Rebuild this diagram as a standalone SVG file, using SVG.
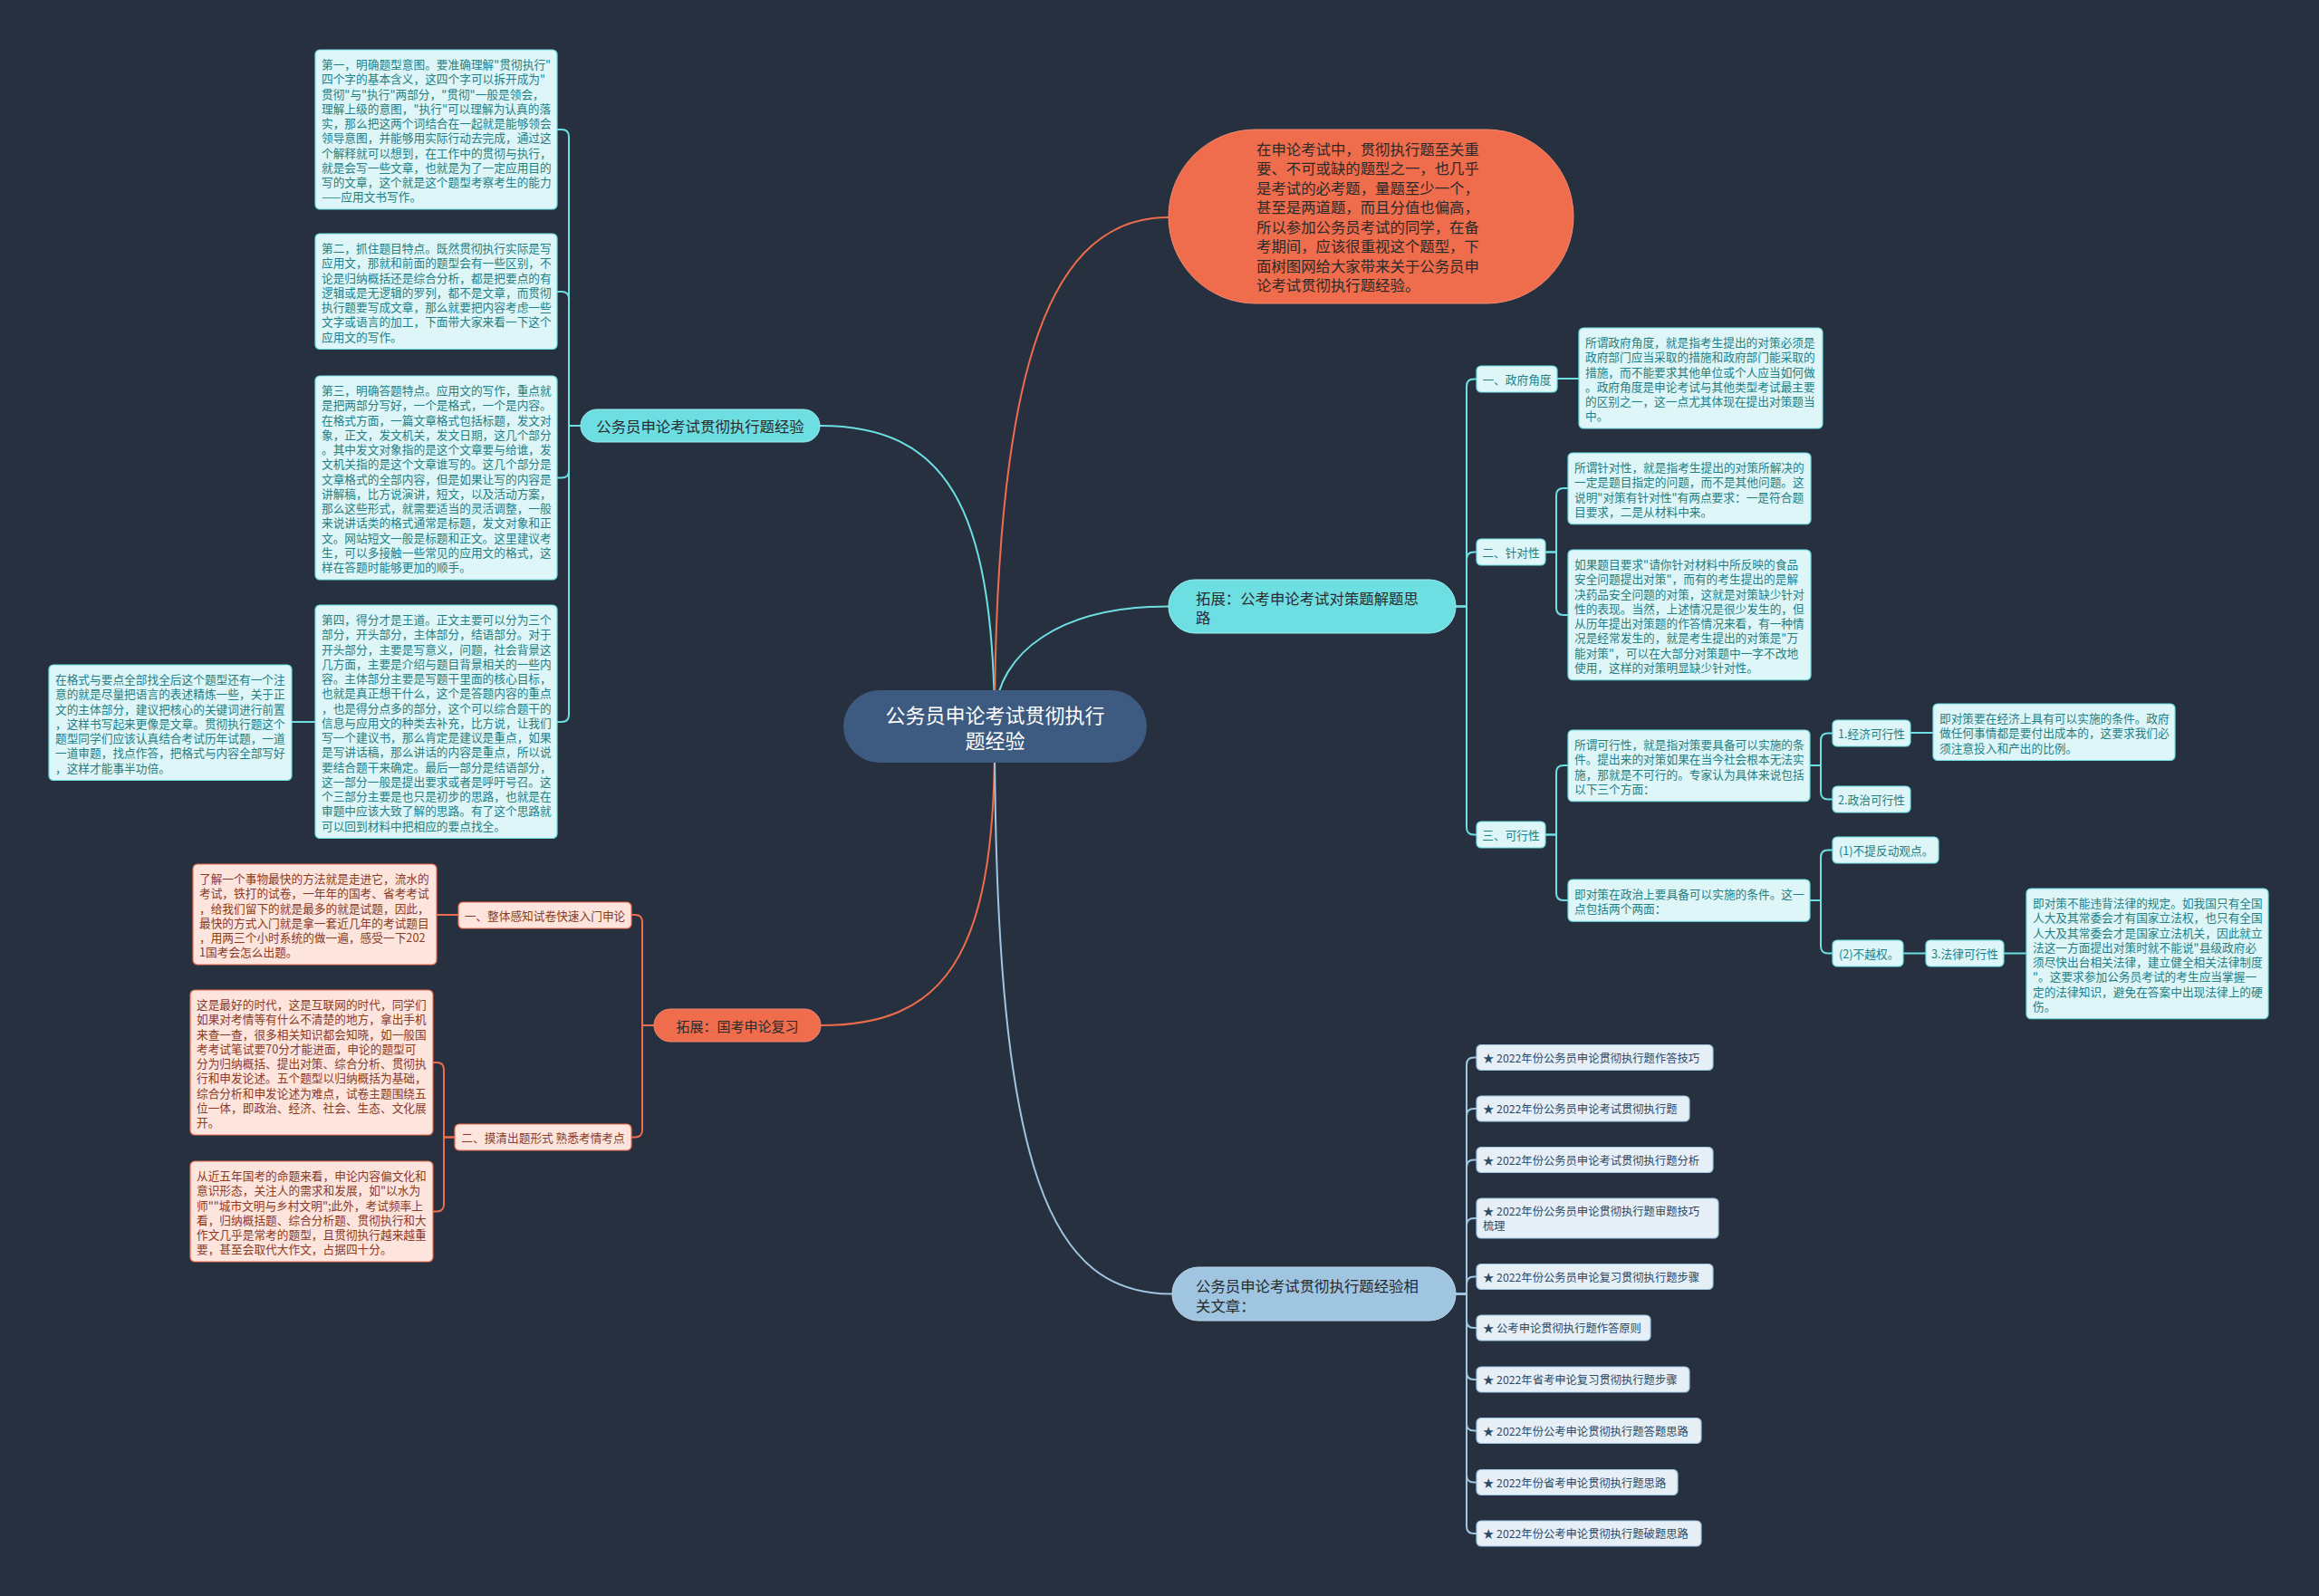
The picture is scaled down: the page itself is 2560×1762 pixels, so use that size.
<svg xmlns="http://www.w3.org/2000/svg" width="2560" height="1762" viewBox="0 0 2560 1762">
<style>
text{font-family:"Noto Sans CJK SC","Noto Sans",sans-serif;dominant-baseline:central}
.lc{fill:#def6f7;stroke:#6ddfe3;stroke-width:1.2}
.lo{fill:#fde5dd;stroke:#ef6c4c;stroke-width:1.2}
.la{fill:#e6eff6;stroke:#9fc5e0;stroke-width:1.2}
.tc{fill:#1f7f86;font-size:12.7px}
.to{fill:#8a3a28;font-size:12.7px}
.ta{fill:#2c4a66;font-size:12.3px}
.cc{fill:none;stroke:#6ddfe3;stroke-width:2}
.co{fill:none;stroke:#ef6c4c;stroke-width:2}
.ca{fill:none;stroke:#9fc5e0;stroke-width:2}
.big{font-size:16.4px;fill:#2a2a2a}
</style>
<rect width="2560" height="1762" fill="#27303f"/>
<g id="connectors">
<path class="cc" d="M1098 790 C1095 560 1045 470 905 470"/>
<path class="co" d="M1098 790 C1100 400 1160 240 1290 240"/>
<path class="cc" d="M1098 790 C1102 720 1170 669.5 1290 669.5"/>
<path class="co" d="M1098 820 C1098 1060 1040 1132 906 1132"/>
<path class="ca" d="M1098 820 C1100 1300 1160 1428.5 1294 1428.5"/>
<!-- cyan left -->
<path class="cc" d="M641 470 H628 V151 Q628 143 620 143 H615"/>
<path class="cc" d="M641 470 H628 V330 Q628 322 620 322 H615"/>
<path class="cc" d="M641 470 H628 V519.5 Q628 527.5 620 527.5 H615"/>
<path class="cc" d="M641 470 H628 V789 Q628 797 620 797 H615"/>
<path class="cc" d="M348 797 H322"/>
<!-- orange -->
<path class="co" d="M722 1132 H709 V1018 Q709 1010 701 1010 H697"/>
<path class="co" d="M722 1132 H709 V1247.5 Q709 1255.5 701 1255.5 H697"/>
<path class="co" d="M506 1010 H482"/>
<path class="co" d="M502 1255.5 H490 V1181 Q490 1173 482 1173 H478"/>
<path class="co" d="M502 1255.5 H490 V1329.5 Q490 1337.5 482 1337.5 H478"/>
<!-- right strategy -->
<path class="cc" d="M1607 669.5 H1619 V426.5 Q1619 418.5 1627 418.5 H1630"/>
<path class="cc" d="M1607 669.5 H1619 V617.5 Q1619 609.5 1627 609.5 H1630"/>
<path class="cc" d="M1607 669.5 H1619 V913.5 Q1619 921.5 1627 921.5 H1630"/>
<path class="cc" d="M1719 418 H1743"/>
<path class="cc" d="M1706 609.5 H1718 V547 Q1718 539 1726 539 H1731"/>
<path class="cc" d="M1706 609.5 H1718 V671 Q1718 679 1726 679 H1731"/>
<path class="cc" d="M1706 921.5 H1718 V853 Q1718 845 1726 845 H1731"/>
<path class="cc" d="M1706 921.5 H1718 V986 Q1718 994 1726 994 H1731"/>
<path class="cc" d="M1998 845 H2010 V817.5 Q2010 809.5 2018 809.5 H2023"/>
<path class="cc" d="M1998 845 H2010 V874.5 Q2010 882.5 2018 882.5 H2023"/>
<path class="cc" d="M2109 809 H2134"/>
<path class="cc" d="M1998 994 H2010 V946.5 Q2010 938.5 2018 938.5 H2023"/>
<path class="cc" d="M1998 994 H2010 V1044.5 Q2010 1052.5 2018 1052.5 H2023"/>
<path class="cc" d="M2101 1052.5 H2126"/>
<path class="cc" d="M2212 1052.5 H2237"/>
<!-- articles -->
<path class="ca" d="M1607 1428.5 H1619 V1175.5 Q1619 1167.5 1627 1167.5 H1630"/>
<path class="ca" d="M1607 1428.5 H1619 V1232 Q1619 1224 1627 1224 H1630"/>
<path class="ca" d="M1607 1428.5 H1619 V1288.5 Q1619 1280.5 1627 1280.5 H1630"/>
<path class="ca" d="M1607 1428.5 H1619 V1353 Q1619 1345 1627 1345 H1630"/>
<path class="ca" d="M1607 1428.5 H1619 V1417.5 Q1619 1409.5 1627 1409.5 H1630"/>
<path class="ca" d="M1607 1428.5 H1619 V1458 Q1619 1466 1627 1466 H1630"/>
<path class="ca" d="M1607 1428.5 H1619 V1515 Q1619 1523 1627 1523 H1630"/>
<path class="ca" d="M1607 1428.5 H1619 V1571.5 Q1619 1579.5 1627 1579.5 H1630"/>
<path class="ca" d="M1607 1428.5 H1619 V1628.5 Q1619 1636.5 1627 1636.5 H1630"/>
<path class="ca" d="M1607 1428.5 H1619 V1685 Q1619 1693 1627 1693 H1630"/>
</g>

<g id="center">
<rect x="931" y="762" width="335" height="80" rx="40" fill="#3d5a80"/>
<text x="1098.5" y="788" text-anchor="middle" fill="#ffffff" font-size="22px">公务员申论考试贯彻执行</text>
<text x="1098.5" y="816" text-anchor="middle" fill="#ffffff" font-size="22px">题经验</text>
</g>

<g id="intro">
<rect x="1290" y="143" width="447" height="192" rx="96" fill="#ef6c4c" stroke="#f28a6f" stroke-width="1"/>
<text class="big" x="1387" y="163.5" fill="#3b2520">在申论考试中，贯彻执行题至关重</text>
<text class="big" x="1387" y="185" fill="#3b2520">要、不可或缺的题型之一，也几乎</text>
<text class="big" x="1387" y="206.5" fill="#3b2520">是考试的必考题，量题至少一个，</text>
<text class="big" x="1387" y="228" fill="#3b2520">甚至是两道题，而且分值也偏高，</text>
<text class="big" x="1387" y="249.5" fill="#3b2520">所以参加公务员考试的同学，在备</text>
<text class="big" x="1387" y="271" fill="#3b2520">考期间，应该很重视这个题型，下</text>
<text class="big" x="1387" y="292.5" fill="#3b2520">面树图网给大家带来关于公务员申</text>
<text class="big" x="1387" y="314" fill="#3b2520">论考试贯彻执行题经验。</text>
</g>

<g id="branch-exp">
<rect x="641" y="452" width="264" height="36" rx="18" fill="#6ddfe3" stroke="#9aeef0" stroke-width="1"/>
<text class="big" x="773" y="470" text-anchor="middle">公务员申论考试贯彻执行题经验</text>
</g>
<g id="exp-1">
<rect class="lc" x="348" y="55" width="267" height="176" rx="5"/>
<text class="tc" x="355" y="70"><tspan x="355" dy="0">第一，明确题型意图。要准确理解"贯彻执行"</tspan><tspan x="355" dy="16.25">四个字的基本含义，这四个字可以拆开成为"</tspan><tspan x="355" dy="16.25">贯彻"与"执行"两部分，"贯彻"一般是领会，</tspan><tspan x="355" dy="16.25">理解上级的意图，"执行"可以理解为认真的落</tspan><tspan x="355" dy="16.25">实，那么把这两个词结合在一起就是能够领会</tspan><tspan x="355" dy="16.25">领导意图，并能够用实际行动去完成，通过这</tspan><tspan x="355" dy="16.25">个解释就可以想到，在工作中的贯彻与执行，</tspan><tspan x="355" dy="16.25">就是会写一些文章，也就是为了一定应用目的</tspan><tspan x="355" dy="16.25">写的文章，这个就是这个题型考察考生的能力</tspan><tspan x="355" dy="16.25">——应用文书写作。</tspan></text>
</g>
<g id="exp-2">
<rect class="lc" x="348" y="258" width="267" height="127.5" rx="5"/>
<text class="tc" x="355" y="273"><tspan x="355" dy="0">第二，抓住题目特点。既然贯彻执行实际是写</tspan><tspan x="355" dy="16.25">应用文，那就和前面的题型会有一些区别，不</tspan><tspan x="355" dy="16.25">论是归纳概括还是综合分析，都是把要点的有</tspan><tspan x="355" dy="16.25">逻辑或是无逻辑的罗列，都不是文章，而贯彻</tspan><tspan x="355" dy="16.25">执行题要写成文章，那么就要把内容考虑一些</tspan><tspan x="355" dy="16.25">文字或语言的加工，下面带大家来看一下这个</tspan><tspan x="355" dy="16.25">应用文的写作。</tspan></text>
</g>
<g id="exp-3">
<rect class="lc" x="348" y="415" width="267" height="225" rx="5"/>
<text class="tc" x="355" y="430"><tspan x="355" dy="0">第三，明确答题特点。应用文的写作，重点就</tspan><tspan x="355" dy="16.25">是把两部分写好，一个是格式，一个是内容。</tspan><tspan x="355" dy="16.25">在格式方面，一篇文章格式包括标题，发文对</tspan><tspan x="355" dy="16.25">象，正文，发文机关，发文日期，这几个部分</tspan><tspan x="355" dy="16.25">。其中发文对象指的是这个文章要与给谁，发</tspan><tspan x="355" dy="16.25">文机关指的是这个文章谁写的。这几个部分是</tspan><tspan x="355" dy="16.25">文章格式的全部内容，但是如果让写的内容是</tspan><tspan x="355" dy="16.25">讲解稿，比方说演讲，短文，以及活动方案，</tspan><tspan x="355" dy="16.25">那么这些形式，就需要适当的灵活调整，一般</tspan><tspan x="355" dy="16.25">来说讲话类的格式通常是标题，发文对象和正</tspan><tspan x="355" dy="16.25">文。网站短文一般是标题和正文。这里建议考</tspan><tspan x="355" dy="16.25">生，可以多接触一些常见的应用文的格式，这</tspan><tspan x="355" dy="16.25">样在答题时能够更加的顺手。</tspan></text>
</g>
<g id="exp-4">
<rect class="lc" x="348" y="668" width="267" height="257.5" rx="5"/>
<text class="tc" x="355" y="683"><tspan x="355" dy="0">第四，得分才是王道。正文主要可以分为三个</tspan><tspan x="355" dy="16.25">部分，开头部分，主体部分，结语部分。对于</tspan><tspan x="355" dy="16.25">开头部分，主要是写意义，问题，社会背景这</tspan><tspan x="355" dy="16.25">几方面，主要是介绍与题目背景相关的一些内</tspan><tspan x="355" dy="16.25">容。主体部分主要是写题干里面的核心目标，</tspan><tspan x="355" dy="16.25">也就是真正想干什么，这个是答题内容的重点</tspan><tspan x="355" dy="16.25">，也是得分点多的部分，这个可以综合题干的</tspan><tspan x="355" dy="16.25">信息与应用文的种类去补充，比方说，让我们</tspan><tspan x="355" dy="16.25">写一个建议书，那么肯定是建议是重点，如果</tspan><tspan x="355" dy="16.25">是写讲话稿，那么讲话的内容是重点，所以说</tspan><tspan x="355" dy="16.25">要结合题干来确定。最后一部分是结语部分，</tspan><tspan x="355" dy="16.25">这一部分一般是提出要求或者是呼吁号召。这</tspan><tspan x="355" dy="16.25">个三部分主要是也只是初步的思路，也就是在</tspan><tspan x="355" dy="16.25">审题中应该大致了解的思路。有了这个思路就</tspan><tspan x="355" dy="16.25">可以回到材料中把相应的要点找全。</tspan></text>
</g>
<g id="exp-4-note">
<rect class="lc" x="54" y="734" width="268" height="127.5" rx="5"/>
<text class="tc" x="61" y="749"><tspan x="61" dy="0">在格式与要点全部找全后这个题型还有一个注</tspan><tspan x="61" dy="16.25">意的就是尽量把语言的表述精炼一些，关于正</tspan><tspan x="61" dy="16.25">文的主体部分，建议把核心的关键词进行前置</tspan><tspan x="61" dy="16.25">，这样书写起来更像是文章。贯彻执行题这个</tspan><tspan x="61" dy="16.25">题型同学们应该认真结合考试历年试题，一道</tspan><tspan x="61" dy="16.25">一道审题，找点作答，把格式与内容全部写好</tspan><tspan x="61" dy="16.25">，这样才能事半功倍。</tspan></text>
</g>

<g id="branch-review">
<rect x="722" y="1114" width="184" height="36" rx="18" fill="#ef6c4c" stroke="#f28a6f" stroke-width="1"/>
<text class="big" x="814" y="1132" text-anchor="middle" fill="#3b2520" font-size="15px" style="font-size:15px">拓展：国考申论复习</text>
</g>
<g id="review-1">
<rect class="lo" x="506" y="996" width="191" height="29" rx="5"/>
<text class="to" x="601.5" y="1010.5" text-anchor="middle">一、整体感知试卷快速入门申论</text>
</g>
<g id="review-1-note">
<rect class="lo" x="213" y="954" width="269" height="111" rx="5"/>
<text class="to" x="220" y="969"><tspan x="220" dy="0">了解一个事物最快的方法就是走进它，流水的</tspan><tspan x="220" dy="16.25">考试，铁打的试卷，一年年的国考、省考考试</tspan><tspan x="220" dy="16.25">，给我们留下的就是最多的就是试题，因此，</tspan><tspan x="220" dy="16.25">最快的方式入门就是拿一套近几年的考试题目</tspan><tspan x="220" dy="16.25">，用两三个小时系统的做一遍，感受一下202</tspan><tspan x="220" dy="16.25">1国考会怎么出题。</tspan></text>
</g>
<g id="review-2">
<rect class="lo" x="502" y="1241" width="195" height="29" rx="5"/>
<text class="to" x="599.5" y="1255.5" text-anchor="middle">二、摸清出题形式 熟悉考情考点</text>
</g>
<g id="review-2a">
<rect class="lo" x="210" y="1093" width="268" height="160" rx="5"/>
<text class="to" x="217" y="1108"><tspan x="217" dy="0">这是最好的时代，这是互联网的时代，同学们</tspan><tspan x="217" dy="16.25">如果对考情等有什么不清楚的地方，拿出手机</tspan><tspan x="217" dy="16.25">来查一查，很多相关知识都会知晓，如一般国</tspan><tspan x="217" dy="16.25">考考试笔试要70分才能进面，申论的题型可</tspan><tspan x="217" dy="16.25">分为归纳概括、提出对策、综合分析、贯彻执</tspan><tspan x="217" dy="16.25">行和申发论述。五个题型以归纳概括为基础，</tspan><tspan x="217" dy="16.25">综合分析和申发论述为难点，试卷主题围绕五</tspan><tspan x="217" dy="16.25">位一体，即政治、经济、社会、生态、文化展</tspan><tspan x="217" dy="16.25">开。</tspan></text>
</g>
<g id="review-2b">
<rect class="lo" x="210" y="1282" width="268" height="111" rx="5"/>
<text class="to" x="217" y="1297"><tspan x="217" dy="0">从近五年国考的命题来看，申论内容偏文化和</tspan><tspan x="217" dy="16.25">意识形态，关注人的需求和发展，如"以水为</tspan><tspan x="217" dy="16.25">师""城市文明与乡村文明";此外，考试频率上</tspan><tspan x="217" dy="16.25">看，归纳概括题、综合分析题、贯彻执行和大</tspan><tspan x="217" dy="16.25">作文几乎是常考的题型，且贯彻执行越来越重</tspan><tspan x="217" dy="16.25">要，甚至会取代大作文，占据四十分。</tspan></text>
</g>

<g id="branch-strategy">
<rect x="1290" y="640" width="317" height="59" rx="29" fill="#6ddfe3" stroke="#9aeef0" stroke-width="1"/>
<text class="big" x="1320" y="659.5">拓展：公考申论考试对策题解题思</text>
<text class="big" x="1320" y="681">路</text>
</g>
<g id="s-1">
<rect class="lc" x="1630" y="404" width="89" height="29" rx="5"/>
<text class="tc" x="1674.5" y="418.5" text-anchor="middle">一、政府角度</text>
</g>
<g id="s-1-note">
<rect class="lc" x="1743" y="362" width="269" height="111" rx="5"/>
<text class="tc" x="1750" y="377"><tspan x="1750" dy="0">所谓政府角度，就是指考生提出的对策必须是</tspan><tspan x="1750" dy="16.25">政府部门应当采取的措施和政府部门能采取的</tspan><tspan x="1750" dy="16.25">措施，而不能要求其他单位或个人应当如何做</tspan><tspan x="1750" dy="16.25">。政府角度是申论考试与其他类型考试最主要</tspan><tspan x="1750" dy="16.25">的区别之一，这一点尤其体现在提出对策题当</tspan><tspan x="1750" dy="16.25">中。</tspan></text>
</g>
<g id="s-2">
<rect class="lc" x="1630" y="595" width="76" height="29" rx="5"/>
<text class="tc" x="1668" y="609.5" text-anchor="middle">二、针对性</text>
</g>
<g id="s-2a">
<rect class="lc" x="1731" y="500" width="268" height="78.75" rx="5"/>
<text class="tc" x="1738" y="515"><tspan x="1738" dy="0">所谓针对性，就是指考生提出的对策所解决的</tspan><tspan x="1738" dy="16.25">一定是题目指定的问题，而不是其他问题。这</tspan><tspan x="1738" dy="16.25">说明"对策有针对性"有两点要求：一是符合题</tspan><tspan x="1738" dy="16.25">目要求，二是从材料中来。</tspan></text>
</g>
<g id="s-2b">
<rect class="lc" x="1731" y="607" width="268" height="143.75" rx="5"/>
<text class="tc" x="1738" y="622"><tspan x="1738" dy="0">如果题目要求"请你针对材料中所反映的食品</tspan><tspan x="1738" dy="16.25">安全问题提出对策"，而有的考生提出的是解</tspan><tspan x="1738" dy="16.25">决药品安全问题的对策，这就是对策缺少针对</tspan><tspan x="1738" dy="16.25">性的表现。当然，上述情况是很少发生的，但</tspan><tspan x="1738" dy="16.25">从历年提出对策题的作答情况来看，有一种情</tspan><tspan x="1738" dy="16.25">况是经常发生的，就是考生提出的对策是"万</tspan><tspan x="1738" dy="16.25">能对策"，可以在大部分对策题中一字不改地</tspan><tspan x="1738" dy="16.25">使用，这样的对策明显缺少针对性。</tspan></text>
</g>
<g id="s-3">
<rect class="lc" x="1630" y="907" width="76" height="29" rx="5"/>
<text class="tc" x="1668" y="921.5" text-anchor="middle">三、可行性</text>
</g>
<g id="s-3a">
<rect class="lc" x="1731" y="806" width="267" height="78.75" rx="5"/>
<text class="tc" x="1738" y="821"><tspan x="1738" dy="0">所谓可行性，就是指对策要具备可以实施的条</tspan><tspan x="1738" dy="16.25">件。提出来的对策如果在当今社会根本无法实</tspan><tspan x="1738" dy="16.25">施，那就是不可行的。专家认为具体来说包括</tspan><tspan x="1738" dy="16.25">以下三个方面：</tspan></text>
</g>
<g id="s-3a-1">
<rect class="lc" x="2023" y="795" width="86" height="29" rx="5"/>
<text class="tc" x="2066" y="809.5" text-anchor="middle">1.经济可行性</text>
</g>
<g id="s-3a-1-note">
<rect class="lc" x="2134" y="777" width="267" height="62.5" rx="5"/>
<text class="tc" x="2141" y="792"><tspan x="2141" dy="0">即对策要在经济上具有可以实施的条件。政府</tspan><tspan x="2141" dy="16.25">做任何事情都是要付出成本的，这要求我们必</tspan><tspan x="2141" dy="16.25">须注意投入和产出的比例。</tspan></text>
</g>
<g id="s-3a-2">
<rect class="lc" x="2023" y="868" width="86" height="29" rx="5"/>
<text class="tc" x="2066" y="882.5" text-anchor="middle">2.政治可行性</text>
</g>
<g id="s-3b">
<rect class="lc" x="1731" y="971" width="267" height="46.25" rx="5"/>
<text class="tc" x="1738" y="986"><tspan x="1738" dy="0">即对策在政治上要具备可以实施的条件。这一</tspan><tspan x="1738" dy="16.25">点包括两个两面：</tspan></text>
</g>
<g id="s-3b-1">
<rect class="lc" x="2023" y="924" width="117" height="29" rx="5"/>
<text class="tc" x="2030" y="938.5">(1)不提反动观点。</text>
</g>
<g id="s-3b-2">
<rect class="lc" x="2023" y="1038" width="78" height="29" rx="5"/>
<text class="tc" x="2030" y="1052.5">(2)不越权。</text>
</g>
<g id="s-3b-2-law">
<rect class="lc" x="2126" y="1038" width="86" height="29" rx="5"/>
<text class="tc" x="2169" y="1052.5" text-anchor="middle">3.法律可行性</text>
</g>
<g id="s-3b-2-law-note">
<rect class="lc" x="2237" y="981" width="267" height="143.75" rx="5"/>
<text class="tc" x="2244" y="996"><tspan x="2244" dy="0">即对策不能违背法律的规定。如我国只有全国</tspan><tspan x="2244" dy="16.25">人大及其常委会才有国家立法权，也只有全国</tspan><tspan x="2244" dy="16.25">人大及其常委会才是国家立法机关，因此就立</tspan><tspan x="2244" dy="16.25">法这一方面提出对策时就不能说"县级政府必</tspan><tspan x="2244" dy="16.25">须尽快出台相关法律，建立健全相关法律制度</tspan><tspan x="2244" dy="16.25">"。这要求参加公务员考试的考生应当掌握一</tspan><tspan x="2244" dy="16.25">定的法律知识，避免在答案中出现法律上的硬</tspan><tspan x="2244" dy="16.25">伤。</tspan></text>
</g>

<g id="branch-articles">
<rect x="1294" y="1399" width="313" height="59" rx="29" fill="#9fc5e0" stroke="#b9d6ea" stroke-width="1"/>
<text class="big" x="1320" y="1419">公务员申论考试贯彻执行题经验相</text>
<text class="big" x="1320" y="1441">关文章：</text>
</g>
<g id="a-1"><rect class="la" x="1630" y="1153.5" width="261" height="28" rx="5"/><text class="ta" x="1637" y="1167.5">★ 2022年份公务员申论贯彻执行题作答技巧</text></g>
<g id="a-2"><rect class="la" x="1630" y="1210" width="235" height="28" rx="5"/><text class="ta" x="1637" y="1224">★ 2022年份公务员申论考试贯彻执行题</text></g>
<g id="a-3"><rect class="la" x="1630" y="1266.5" width="261" height="28" rx="5"/><text class="ta" x="1637" y="1280.5">★ 2022年份公务员申论考试贯彻执行题分析</text></g>
<g id="a-4"><rect class="la" x="1630" y="1323" width="267" height="44" rx="5"/><text class="ta" x="1637" y="1337">★ 2022年份公务员申论贯彻执行题审题技巧</text><text class="ta" x="1637" y="1353">梳理</text></g>
<g id="a-5"><rect class="la" x="1630" y="1395.5" width="261" height="28" rx="5"/><text class="ta" x="1637" y="1409.5">★ 2022年份公务员申论复习贯彻执行题步骤</text></g>
<g id="a-6"><rect class="la" x="1630" y="1452" width="192" height="28" rx="5"/><text class="ta" x="1637" y="1466">★ 公考申论贯彻执行题作答原则</text></g>
<g id="a-7"><rect class="la" x="1630" y="1509" width="235" height="28" rx="5"/><text class="ta" x="1637" y="1523">★ 2022年省考申论复习贯彻执行题步骤</text></g>
<g id="a-8"><rect class="la" x="1630" y="1565.5" width="248" height="28" rx="5"/><text class="ta" x="1637" y="1579.5">★ 2022年份公考申论贯彻执行题答题思路</text></g>
<g id="a-9"><rect class="la" x="1630" y="1622.5" width="222" height="28" rx="5"/><text class="ta" x="1637" y="1636.5">★ 2022年份省考申论贯彻执行题思路</text></g>
<g id="a-10"><rect class="la" x="1630" y="1679" width="248" height="28" rx="5"/><text class="ta" x="1637" y="1693">★ 2022年份公考申论贯彻执行题破题思路</text></g>
</svg>
